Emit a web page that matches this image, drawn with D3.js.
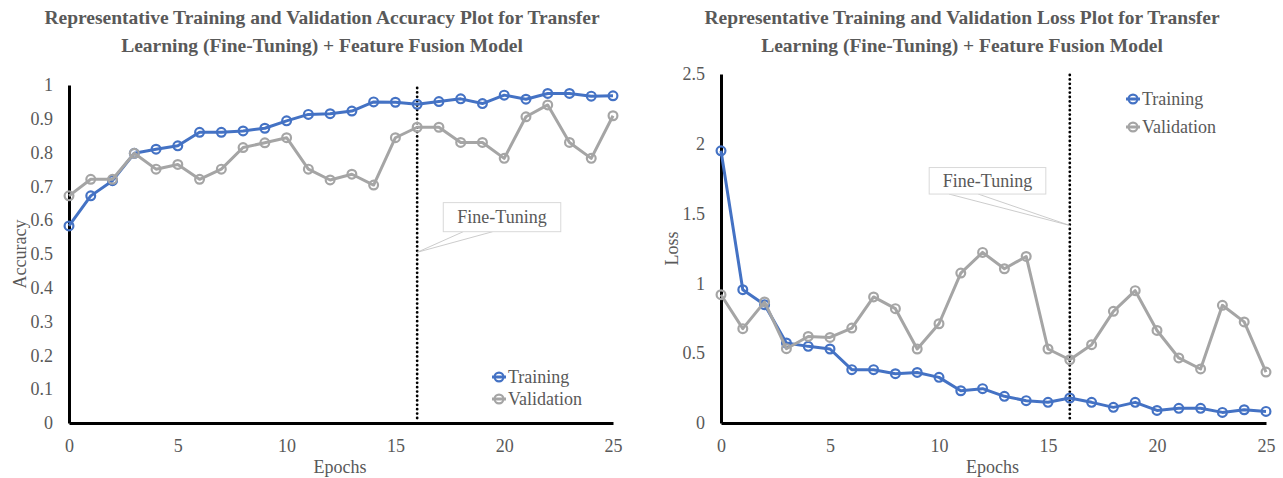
<!DOCTYPE html>
<html>
<head>
<meta charset="utf-8">
<script src="https://cdn.jsdelivr.net/npm/d3@7"></script>
<style>
  html, body { margin: 0; padding: 0; background: #fff; }
  svg { display: block; }
  text { font-family: "Liberation Serif", "Times New Roman", serif; fill: #595959; }
</style>
</head>
<body>
<svg id="chart" width="1283" height="478"></svg>
<script>
// Epoch index shared by both panels
const epochs = d3.range(0, 26);

// Accuracy per epoch
const accTraining = [0.583, 0.672, 0.717, 0.798, 0.810, 0.820, 0.860, 0.860, 0.864, 0.872,
  0.894, 0.913, 0.915, 0.923, 0.950, 0.949, 0.943, 0.951, 0.959, 0.945,
  0.970, 0.958, 0.975, 0.975, 0.967, 0.968];
const accValidation = [0.672, 0.721, 0.721, 0.798, 0.751, 0.765, 0.721, 0.751, 0.815, 0.829,
  0.844, 0.751, 0.719, 0.736, 0.704, 0.844, 0.875, 0.875, 0.830, 0.830,
  0.783, 0.906, 0.941, 0.830, 0.783, 0.909];

// Loss per epoch
const lossTraining = [1.95, 0.955, 0.847, 0.573, 0.549, 0.530, 0.382, 0.382, 0.353, 0.362,
  0.327, 0.231, 0.246, 0.191, 0.160, 0.148, 0.179, 0.148, 0.112, 0.148,
  0.090, 0.105, 0.105, 0.076, 0.095, 0.083];
const lossValidation = [0.919, 0.676, 0.867, 0.532, 0.620, 0.613, 0.680, 0.903, 0.819, 0.530,
  0.711, 1.074, 1.222, 1.105, 1.193, 0.530, 0.453, 0.561, 0.800, 0.948,
  0.663, 0.466, 0.387, 0.843, 0.724, 0.365];

// Tick values
const xTicks = [0, 5, 10, 15, 20, 25];
const accTicks = d3.range(0, 11).map(i => i / 10);
const lossTicks = [0, 0.5, 1, 1.5, 2, 2.5];

const seriesNames = ["Training", "Validation"];
const fineTuneEpoch = 16;
const calloutText = "Fine-Tuning";

const accTitle = ["Representative Training and Validation Accuracy Plot for Transfer",
  "Learning (Fine-Tuning) + Feature Fusion Model"];
const lossTitle = ["Representative Training and Validation Loss Plot for Transfer",
  "Learning (Fine-Tuning) + Feature Fusion Model"];

const colors = { Training: "#4472C4", Validation: "#A5A5A5" };
const svg = d3.select("#chart");
svg.append("rect").attr("width", 1283).attr("height", 478).attr("fill", "#fff");

function panel(cfg) {
  const g = svg.append("g");
  const x = d3.scaleLinear().domain([0, 25]).range([cfg.left, cfg.right]);
  const y = d3.scaleLinear().domain([0, cfg.yMax]).range([cfg.bottom, cfg.top]);

  // Title
  const title = g.append("text")
    .attr("x", cfg.titleX).attr("y", 24)
    .attr("text-anchor", "middle")
    .style("font-weight", "bold").style("font-size", "19.5px");
  cfg.title.forEach((line, i) => {
    title.append("tspan").attr("x", cfg.titleX).attr("dy", i === 0 ? 0 : 28).text(line);
  });

  // Axes
  const yAxis = g.append("g").attr("transform", `translate(${cfg.left},0)`)
    .call(d3.axisLeft(y).tickValues(cfg.yTicks).tickSize(0).tickPadding(16)
      .tickFormat(d => String(+d.toFixed(2))));
  const xAxis = g.append("g").attr("transform", `translate(0,${cfg.bottom})`)
    .call(d3.axisBottom(x).tickValues(xTicks).tickSize(0).tickPadding(16));
  [xAxis, yAxis].forEach(a => {
    a.select(".domain").attr("stroke", "#000").attr("stroke-width", 3);
    a.selectAll("text").style("font-size", "18px").style("font-family", "Liberation Serif, serif")
      .attr("fill", "#595959");
  });

  // Axis titles
  g.append("text").attr("x", (cfg.left + cfg.right) / 2 - 1).attr("y", cfg.bottom + 50)
    .attr("text-anchor", "middle").style("font-size", "18px").text("Epochs");
  g.append("text")
    .attr("transform", `translate(${cfg.yLabelX},${(cfg.top + cfg.bottom) / 2}) rotate(-90)`)
    .attr("text-anchor", "middle").style("font-size", "18px").text(cfg.yLabel);

  // Fine-tuning marker line
  g.append("line")
    .attr("x1", x(fineTuneEpoch)).attr("x2", x(fineTuneEpoch))
    .attr("y1", cfg.top + cfg.dotTopPad).attr("y2", cfg.bottom - 2)
    .attr("stroke", "#000").attr("stroke-width", 2.8)
    .attr("stroke-linecap", "round").attr("stroke-dasharray", "0,4.4");

  // Callout
  const c = cfg.callout;
  const bx0 = x(c.x0), bx1 = x(c.x1), by0 = y(c.y0), by1 = y(c.y1);
  const ax = x(fineTuneEpoch), ay = y(c.anchorY);
  g.append("path")
    .attr("d", `M${bx0 + (bx1 - bx0) * 0.17},${by1} L${ax},${ay} L${bx0 + (bx1 - bx0) * 0.42},${by1}`)
    .attr("fill", "none").attr("stroke", "#BFBFBF").attr("stroke-width", 0.8);
  g.append("rect").attr("x", bx0).attr("y", by0).attr("width", bx1 - bx0).attr("height", by1 - by0)
    .attr("fill", "#fff").attr("stroke", "#D9D9D9").attr("stroke-width", 1);
  g.append("text").attr("x", (bx0 + bx1) / 2).attr("y", (by0 + by1) / 2 + 6)
    .attr("text-anchor", "middle").style("font-size", "18px").text(calloutText);

  // Series (validation drawn last, on top)
  const line = d3.line().x((d, i) => x(epochs[i])).y(d => y(d));
  cfg.series.forEach(s => {
    const sg = g.append("g");
    sg.append("path").datum(s.values)
      .attr("d", line).attr("fill", "none")
      .attr("stroke", colors[s.name]).attr("stroke-width", 3)
      .attr("stroke-linejoin", "round");
    sg.selectAll("circle").data(s.values).join("circle")
      .attr("cx", (d, i) => x(epochs[i])).attr("cy", d => y(d)).attr("r", 4.4)
      .attr("fill", "none").attr("stroke", colors[s.name]).attr("stroke-width", 2.2);
  });

  // Legend
  seriesNames.forEach((name, i) => {
    const ly = cfg.legendY + i * cfg.legendGap;
    const lx = cfg.legendX;
    g.append("line").attr("x1", lx - 7).attr("x2", lx + 7).attr("y1", ly).attr("y2", ly)
      .attr("stroke", colors[name]).attr("stroke-width", 3);
    g.append("circle").attr("cx", lx).attr("cy", ly).attr("r", 4.4)
      .attr("fill", "none").attr("stroke", colors[name]).attr("stroke-width", 2.2);
    g.append("text").attr("x", lx + 9).attr("y", ly + 6).style("font-size", "18px").text(name);
  });
}

panel({
  left: 69, right: 613, top: 85, bottom: 423, yMax: 1,
  yTicks: accTicks, yLabel: "Accuracy", yLabelX: 26, titleX: 322,
  title: accTitle, dotTopPad: 3,
  callout: { x0: 17.2, x1: 22.6, y0: 0.652, y1: 0.566, anchorY: 0.505 },
  series: [
    { name: "Training", values: accTraining },
    { name: "Validation", values: accValidation }
  ],
  legendX: 499, legendY: 377, legendGap: 22
});

panel({
  left: 721, right: 1266, top: 74, bottom: 423, yMax: 2.5,
  yTicks: lossTicks, yLabel: "Loss", yLabelX: 678, titleX: 962,
  title: lossTitle, dotTopPad: 1,
  callout: { x0: 9.55, x1: 14.9, y0: 1.83, y1: 1.64, anchorY: 1.415 },
  series: [
    { name: "Training", values: lossTraining },
    { name: "Validation", values: lossValidation }
  ],
  legendX: 1133, legendY: 99, legendGap: 28
});
</script>
</body>
</html>
